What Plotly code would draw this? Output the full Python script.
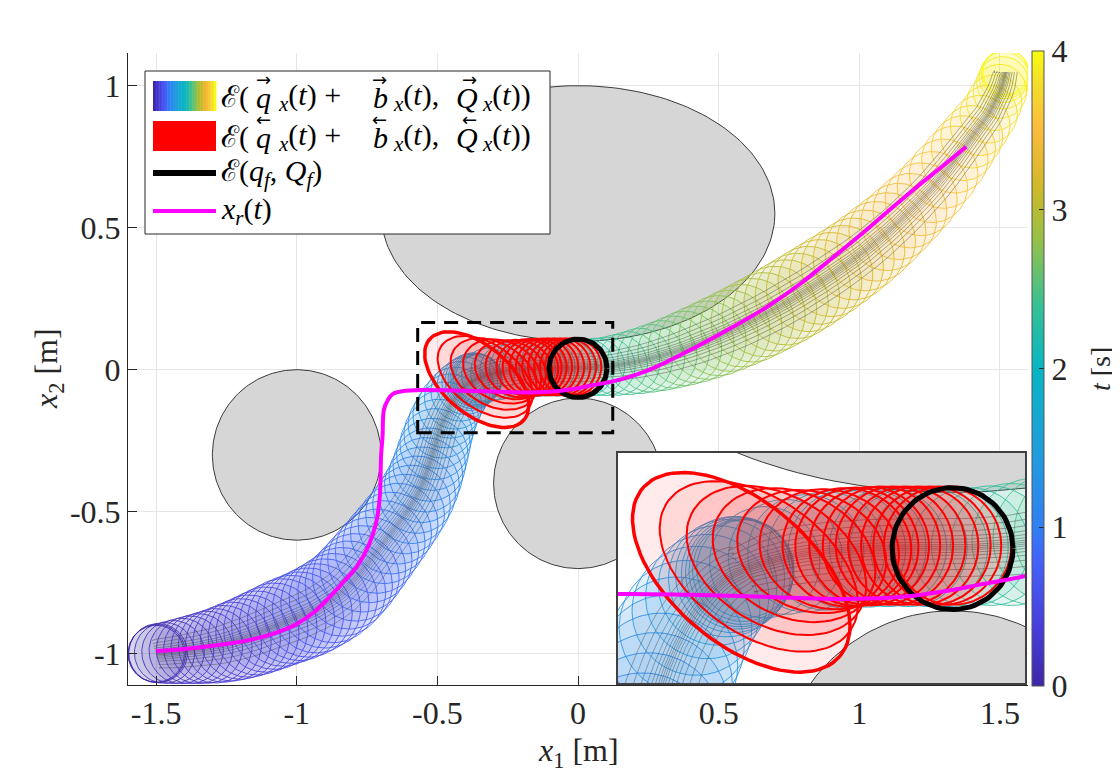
import numpy as np
import plotly.graph_objects as go

# ---- obstacles (centre, semi-axes) ----
OBS_CX = [0.0, -1.0, 0.0]
OBS_CY = [0.55, -0.3, -0.4]
OBS_AX = [0.7, 0.3, 0.3]
OBS_AY = [0.45, 0.3, 0.3]

# ---- forward tube: time, centre and radius of each ellipse ----
TUBE_T = [0.00, 0.02, 0.04, 0.07, 0.10, 0.13, 0.16, 0.19, 0.22, 0.25, 0.28, 0.31, 0.34, 0.37, 0.40, 0.43,
          0.46, 0.49, 0.52, 0.55, 0.58, 0.61, 0.64, 0.67, 0.70, 0.73, 0.76, 0.79, 0.82, 0.85, 0.88, 0.91,
          0.94, 0.97, 1.00, 1.03, 1.06, 1.09, 1.12, 1.15, 1.18, 1.21, 1.24, 1.27, 1.30, 1.33, 1.36, 1.39,
          1.42,
          1.45, 1.48, 1.51, 1.54, 1.57, 1.60,
          1.65, 1.71, 1.77, 1.83, 1.89, 1.95, 2.01, 2.07, 2.13, 2.19, 2.25, 2.31,
          2.36, 2.40, 2.44, 2.48, 2.52, 2.56, 2.60, 2.64, 2.68, 2.72, 2.76, 2.80, 2.84, 2.88, 2.92, 2.96,
          3.00, 3.04, 3.08, 3.12, 3.16, 3.20, 3.24, 3.28, 3.32, 3.36, 3.40, 3.44, 3.48, 3.52, 3.56, 3.60,
          3.64, 3.68, 3.72, 3.76, 3.80, 3.84, 3.88, 3.92, 3.95, 3.98, 4.00]
TUBE_X = [-1.5, -1.497, -1.493, -1.47, -1.44, -1.41, -1.38, -1.35, -1.32, -1.29, -1.26, -1.23, -1.20, -1.17,
          -1.14, -1.11, -1.08, -1.05, -1.02, -0.99, -0.96, -0.93, -0.90, -0.87, -0.84, -0.815, -0.79, -0.765,
          -0.74, -0.715, -0.69, -0.665, -0.64, -0.615, -0.592, -0.572, -0.555, -0.541, -0.529, -0.518, -0.508,
          -0.497, -0.485, -0.471, -0.455, -0.437, -0.418, -0.400, -0.385,
          -0.374, -0.367, -0.363, -0.360, -0.357, -0.353,
          -0.32, -0.285, -0.25, -0.215, -0.18, -0.145, -0.11, -0.075, -0.04, -0.005, 0.03, 0.065,
          0.10, 0.14, 0.18, 0.22, 0.26, 0.30, 0.34, 0.38, 0.42, 0.46, 0.50, 0.54, 0.58, 0.62, 0.66, 0.70,
          0.74, 0.78, 0.82, 0.86, 0.90, 0.94, 0.98, 1.02, 1.06, 1.10, 1.14, 1.18, 1.22, 1.26, 1.30, 1.34,
          1.37, 1.40, 1.43, 1.46, 1.48, 1.50, 1.51, 1.515, 1.52, 1.52, 1.52]
TUBE_Y = [-1.0, -0.999, -0.998, -0.997, -0.994, -0.990, -0.986, -0.982, -0.977, -0.972, -0.965, -0.957,
          -0.948, -0.938, -0.927, -0.915, -0.903, -0.890, -0.879, -0.868, -0.855, -0.840, -0.823, -0.804,
          -0.782, -0.758, -0.731, -0.701, -0.670, -0.639, -0.607, -0.575, -0.542, -0.508, -0.474, -0.440,
          -0.405, -0.370, -0.334, -0.298, -0.262, -0.226, -0.192, -0.159, -0.128, -0.100, -0.076, -0.057,
          -0.045,
          -0.039, -0.036, -0.035, -0.034, -0.032, -0.029,
          -0.018, -0.009, -0.003, 0.001, 0.004, 0.006, 0.007, 0.007, 0.007, 0.007, 0.008, 0.010,
          0.012, 0.017, 0.023, 0.031, 0.040, 0.050, 0.062, 0.075, 0.089, 0.104, 0.120, 0.137, 0.155, 0.174,
          0.194, 0.215, 0.237, 0.260, 0.284, 0.309, 0.335, 0.362, 0.390, 0.420, 0.452, 0.486, 0.522, 0.560,
          0.600, 0.643, 0.690, 0.740, 0.780, 0.820, 0.860, 0.900, 0.940, 0.980, 1.010, 1.030, 1.040, 1.045,
          1.048]
TUBE_R = [0.100, 0.102, 0.104, 0.107, 0.111, 0.115, 0.119, 0.123, 0.127, 0.131, 0.135, 0.139, 0.142, 0.145,
          0.148, 0.150, 0.152, 0.154, 0.155, 0.156, 0.157, 0.157, 0.157, 0.157, 0.156, 0.155, 0.154, 0.152,
          0.150, 0.148, 0.146, 0.144, 0.142, 0.140, 0.138, 0.136, 0.133, 0.131, 0.129, 0.127, 0.125, 0.122,
          0.119, 0.116, 0.113, 0.109, 0.105, 0.101, 0.099,
          0.098, 0.095, 0.092, 0.089, 0.086, 0.083,
          0.094, 0.097, 0.099, 0.100, 0.100, 0.100, 0.100, 0.100, 0.100, 0.100, 0.100, 0.101,
          0.103, 0.107, 0.111, 0.115, 0.119, 0.123, 0.127, 0.131, 0.135, 0.138, 0.141, 0.143, 0.145, 0.147,
          0.148, 0.149, 0.150, 0.150, 0.150, 0.149, 0.148, 0.146, 0.144, 0.142, 0.140, 0.137, 0.134, 0.131,
          0.128, 0.125, 0.122, 0.118, 0.114, 0.110, 0.106, 0.102, 0.098, 0.095, 0.092, 0.089, 0.086, 0.083,
          0.080]

# ---- backward sets (red ellipses): centre, semi-axes, tilt in degrees ----
RED_CX = [-0.36, -0.33, -0.30, -0.27, -0.24, -0.21, -0.18, -0.163, -0.142, -0.121, -0.099, -0.078, -0.056,
          -0.035, -0.017, 0.0]
RED_CY = [-0.035, -0.025, -0.015, -0.006, 0.0, 0.004, 0.007, 0.008, 0.009, 0.01, 0.01, 0.01, 0.01, 0.01,
          0.01, 0.01]
RED_A = [0.22, 0.19, 0.165, 0.145, 0.13, 0.12, 0.11, 0.105, 0.102, 0.1, 0.1, 0.1, 0.1, 0.1, 0.1, 0.1]
RED_B = [0.12, 0.115, 0.11, 0.105, 0.10, 0.10, 0.10, 0.1, 0.1, 0.1, 0.1, 0.1, 0.1, 0.1, 0.1, 0.1]
RED_ANG = [-40, -35, -30, -25, -20, -15, -10, -6, -3, 0, 0, 0, 0, 0, 0, 0]

# ---- final set ----
GOAL_C = (0.0, 0.005)
GOAL_R = 0.103

# ---- reference trajectory x_r(t) ----
REF_X = [-1.5, -1.4, -1.3, -1.17, -1.08, -1.0, -0.94, -0.883, -0.835, -0.787, -0.745, -0.718, -0.705,
         -0.70, -0.695, -0.69, -0.675, -0.658, -0.62, -0.577, -0.45, -0.3, -0.178, -0.08, -0.019, 0.05, 0.12,
         0.2, 0.278, 0.41, 0.55, 0.67, 0.787, 0.9, 1.025, 1.1, 1.2, 1.3, 1.38]
REF_Y = [-0.99, -0.983, -0.972, -0.952, -0.928, -0.895, -0.855, -0.80, -0.748, -0.694, -0.62, -0.54, -0.45,
         -0.30, -0.236, -0.14, -0.105, -0.085, -0.075, -0.072, -0.073, -0.077, -0.08, -0.076, -0.068,
         -0.055, -0.042, -0.02, 0.01, 0.075, 0.15, 0.22, 0.30, 0.39, 0.492, 0.556, 0.64, 0.72, 0.785]

# zoom box / inset limits
ZOOM_X = [-0.57, 0.1235]
ZOOM_Y = [-0.222, 0.1665]

X_TICKS = [-1.5, -1, -0.5, 0, 0.5, 1, 1.5]
X_TICKTEXT = ["-1.5", "-1", "-0.5", "0", "0.5", "1", "1.5"]
Y_TICKS = [-1, -0.5, 0, 0.5, 1]
Y_TICKTEXT = ["-1", "-0.5", "0", "0.5", "1"]
CB_TICKS = [0, 1, 2, 3, 4]

PARULA = [(0.0, "#3e26a8"), (0.1, "#4740e0"), (0.2, "#4363fb"), (0.25, "#2f7ff4"), (0.375, "#1f9fdc"),
          (0.5, "#06b6c4"), (0.6, "#37c194"), (0.7, "#94c14a"), (0.75, "#b7bc30"), (0.8, "#d8b928"),
          (0.875, "#fbbb3c"), (0.95, "#f5de28"), (1.0, "#f9fb0e")]

FONT = "Liberation Serif, DejaVu Serif, serif"
INK = "#262626"
W_PX, H_PX = 900.0, 632.0   # plot area in pixels
L_PX, B_PX = 120.0, 677.0   # left / bottom edge of the plot area


def px_x(p):
    return (p - L_PX) / W_PX


def px_y(p):
    return (B_PX - p) / H_PX


def hex_rgb(h):
    return np.array([int(h[i:i + 2], 16) for i in (1, 3, 5)], dtype=float)


def parula(v):
    v = min(max(v, 0.0), 1.0)
    for (p0, c0), (p1, c1) in zip(PARULA[:-1], PARULA[1:]):
        if v <= p1:
            f = (v - p0) / (p1 - p0)
            return hex_rgb(c0) * (1 - f) + hex_rgb(c1) * f
    return hex_rgb(PARULA[-1][1])


def rgba(c, a):
    return f"rgba({int(c[0])},{int(c[1])},{int(c[2])},{a})"


def ellipse(cx, cy, a, b, ang=0.0, n=90):
    th = np.linspace(0, 2 * np.pi, n)
    p = np.deg2rad(ang)
    ex, ey = a * np.cos(th), b * np.sin(th)
    return cx + ex * np.cos(p) - ey * np.sin(p), cy + ex * np.sin(p) + ey * np.cos(p)


# grey sample lines running through the tube
tx, ty, tr = np.array(TUBE_X), np.array(TUBE_Y), np.array(TUBE_R)
dx, dy = np.gradient(tx), np.gradient(ty)
nn = np.hypot(dx, dy) + 1e-9
nx, ny = -dy / nn, dx / nn
hx, hy = [], []
for k in [-0.5, -0.38, -0.28, -0.2, -0.14, -0.09, -0.05, -0.02, 0.01, 0.04, 0.08, 0.13, 0.19, 0.27, 0.37,
          0.48]:
    hx += list(tx + k * tr * nx) + [None]
    hy += list(ty + k * tr * ny) + [None]

fig = go.Figure()


def add_scene(xa, ya):
    for cx, cy, ax, ay in zip(OBS_CX, OBS_CY, OBS_AX, OBS_AY):
        ex, ey = ellipse(cx, cy, ax, ay, n=200)
        fig.add_trace(go.Scatter(x=ex, y=ey, xaxis=xa, yaxis=ya, mode="lines", fill="toself",
                                 fillcolor="#d6d6d6", line=dict(color="#3a3a3a", width=1),
                                 hoverinfo="skip"))
    for t, cx, cy, r in zip(TUBE_T, TUBE_X, TUBE_Y, TUBE_R):
        c = parula(t / 4.0)
        ex, ey = ellipse(cx, cy, r, r)
        fig.add_trace(go.Scatter(x=ex, y=ey, xaxis=xa, yaxis=ya, mode="lines", fill="toself",
                                 fillcolor=rgba(c, 0.07), line=dict(color=rgba(c, 0.85), width=1),
                                 hoverinfo="skip"))
    fig.add_trace(go.Scatter(x=hx, y=hy, xaxis=xa, yaxis=ya, mode="lines",
                             line=dict(color="rgba(70,70,70,0.45)", width=1), hoverinfo="skip"))
    for i, (cx, cy, a, b, ang) in enumerate(zip(RED_CX, RED_CY, RED_A, RED_B, RED_ANG)):
        ex, ey = ellipse(cx, cy, a, b, ang)
        fig.add_trace(go.Scatter(x=ex, y=ey, xaxis=xa, yaxis=ya, mode="lines", fill="toself",
                                 fillcolor="rgba(255,0,0,0.08)",
                                 line=dict(color="#ff0000", width=3.5 if i == 0 else 2),
                                 hoverinfo="skip"))
    ex, ey = ellipse(GOAL_C[0], GOAL_C[1], GOAL_R, GOAL_R)
    fig.add_trace(go.Scatter(x=ex, y=ey, xaxis=xa, yaxis=ya, mode="lines",
                             line=dict(color="black", width=5), hoverinfo="skip"))
    fig.add_trace(go.Scatter(x=REF_X, y=REF_Y, xaxis=xa, yaxis=ya, mode="lines",
                             line=dict(color="#ff00ff", width=4, shape="spline", smoothing=1.0),
                             hoverinfo="skip"))


add_scene("x", "y")
add_scene("x2", "y2")

# colour bar for t
fig.add_trace(go.Scatter(
    x=[0, 0], y=[0, 0], mode="markers", hoverinfo="skip",
    marker=dict(size=1, opacity=0, color=[0, 4], cmin=0, cmax=4,
                colorscale=[[p, c] for p, c in PARULA], showscale=True,
                colorbar=dict(thickness=12, thicknessmode="pixels", len=655, lenmode="pixels",
                              x=px_x(1014), xanchor="left", y=px_y(360.5), yanchor="middle",
                              outlinewidth=1, outlinecolor="#555555", tickvals=CB_TICKS,
                              ticks="inside", ticklen=5, tickcolor=INK,
                              tickfont=dict(family=FONT, size=32, color=INK)))))

axis_common = dict(ticks="inside", ticklen=9, tickcolor=INK, showline=True, linecolor=INK, linewidth=1,
                   showgrid=True, gridcolor="#e6e6e6", gridwidth=1, zeroline=False,
                   tickfont=dict(family=FONT, size=32, color=INK))
inset_common = dict(showticklabels=False, ticks="", showgrid=False, zeroline=False, showline=True,
                    mirror=True, linecolor="#404040", linewidth=1.5)

shapes = [dict(type="rect", xref="x", yref="y", x0=ZOOM_X[0], x1=ZOOM_X[1], y0=ZOOM_Y[0], y1=ZOOM_Y[1],
               line=dict(color="black", width=3, dash="14px,9px"), layer="above")]

# legend drawn by hand (gradient swatch, arrows over symbols)
shapes.append(dict(type="rect", xref="paper", yref="paper", x0=px_x(137), x1=px_x(542), y0=px_y(226),
                   y1=px_y(63), fillcolor="white", line=dict(color=INK, width=1), layer="above"))
n_sw = 40
sw0, sw1 = px_x(145), px_x(208)
for i in range(n_sw):
    x0 = sw0 + (sw1 - sw0) * i / n_sw
    shapes.append(dict(type="rect", xref="paper", yref="paper", x0=x0, x1=x0 + (sw1 - sw0) / n_sw + 0.0005,
                       y0=px_y(103), y1=px_y(73), fillcolor=rgba(parula(i / (n_sw - 1)), 1),
                       line=dict(width=0), layer="above"))
shapes.append(dict(type="rect", xref="paper", yref="paper", x0=sw0, x1=sw1, y0=px_y(143), y1=px_y(113),
                   fillcolor="#ff0000", line=dict(width=0), layer="above"))
shapes.append(dict(type="line", xref="paper", yref="paper", x0=sw0, x1=sw1, y0=px_y(165), y1=px_y(165),
                   line=dict(color="black", width=6), layer="above"))
shapes.append(dict(type="line", xref="paper", yref="paper", x0=sw0, x1=sw1, y0=px_y(203), y1=px_y(203),
                   line=dict(color="#ff00ff", width=4), layer="above"))

annotations = []


def leg_text(text, x_px, y_px, size=30):
    annotations.append(dict(xref="paper", yref="paper", x=px_x(x_px), y=px_y(y_px), xanchor="left",
                            yanchor="middle", text=text, showarrow=False,
                            font=dict(family=FONT, size=size, color="black")))


SUB_X = "<sub><i>x</i></sub>(<i>t</i>)"
for y_row, arrow in [(89, "→"), (129, "←")]:
    leg_text("ℰ(", 211, y_row)
    leg_text("<i>q</i>", 246, y_row)
    leg_text(SUB_X + " +", 268, y_row)
    leg_text("<i>b</i>", 363, y_row)
    leg_text(SUB_X + ",", 383, y_row)
    leg_text("<i>Q</i>", 446, y_row)
    leg_text(SUB_X + ")", 472, y_row)
    for ax_px in [255, 371, 461]:
        annotations.append(dict(xref="paper", yref="paper", x=px_x(ax_px), y=px_y(y_row - 18),
                                xanchor="center", yanchor="middle", text=arrow, showarrow=False,
                                font=dict(family="DejaVu Sans", size=18, color="black")))
leg_text("ℰ(<i>q</i><sub><i>f</i></sub>, <i>Q</i><sub><i>f</i></sub>)", 211, 165)
leg_text("<i>x</i><sub><i>r</i></sub>(<i>t</i>)", 211, 203)

annotations += [
    dict(xref="paper", yref="paper", x=0.5, y=px_y(745), xanchor="center", yanchor="middle",
         text="<i>x</i><sub>1</sub> [m]", showarrow=False, font=dict(family=FONT, size=32, color=INK)),
    dict(xref="paper", yref="paper", x=px_x(40), y=0.5, xanchor="center", yanchor="middle", textangle=-90,
         text="<i>x</i><sub>2</sub> [m]", showarrow=False, font=dict(family=FONT, size=32, color=INK)),
    dict(xref="paper", yref="paper", x=px_x(1092), y=0.5, xanchor="center", yanchor="middle", textangle=-90,
         text="<i>t</i> [s]", showarrow=False, font=dict(family=FONT, size=28, color=INK)),
]

fig.update_layout(
    width=1120, height=779, margin=dict(l=120, r=100, t=45, b=102),
    paper_bgcolor="white", plot_bgcolor="white", showlegend=False,
    xaxis=dict(range=[-1.6, 1.6], tickvals=X_TICKS, ticktext=X_TICKTEXT, domain=[0, 1], **axis_common),
    yaxis=dict(range=[-1.11, 1.115], tickvals=Y_TICKS, ticktext=Y_TICKTEXT, domain=[0, 1], **axis_common),
    xaxis2=dict(range=ZOOM_X, domain=[px_x(610), px_x(1017)], anchor="y2", **inset_common),
    yaxis2=dict(range=ZOOM_Y, domain=[px_y(675), px_y(445)], anchor="x2", **inset_common),
    shapes=shapes, annotations=annotations,
)

fig.write_html("out.html")
